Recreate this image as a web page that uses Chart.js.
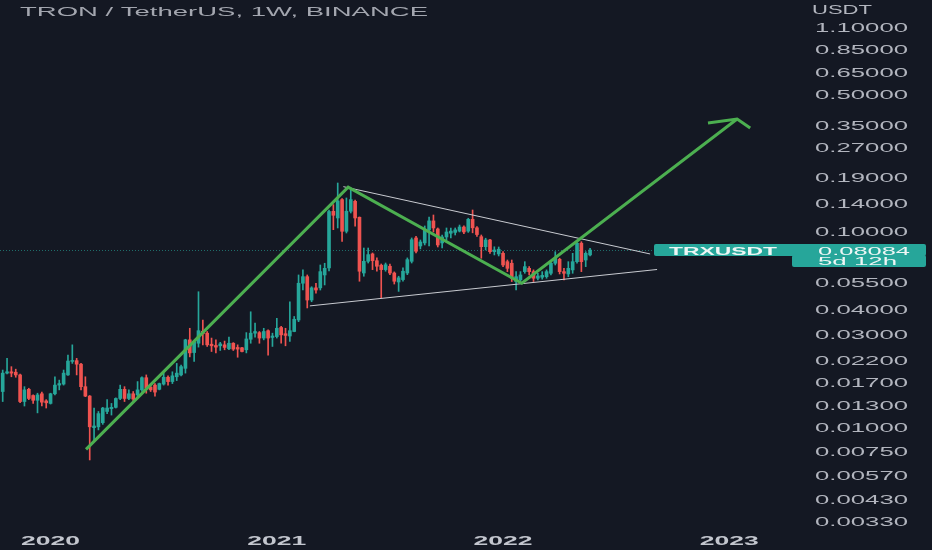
<!DOCTYPE html>
<html>
<head>
<meta charset="utf-8">
<script src="https://cdn.jsdelivr.net/npm/chart.js@4.4.1/dist/chart.umd.min.js"></script>
<style>
  html, body { margin: 0; padding: 0; background: #141823; }
  #wrap { width: 932px; height: 550px; }
</style>
</head>
<body>
<div id="wrap"><canvas id="trx" width="932" height="550"></canvas></div>
<script>
// TRX/USDT weekly candles, first bar = week of 2019-10-21
const startDate = "2019-10-21";

const opens = [
  0.0153, 0.0190, 0.0193, 0.0192, 0.0186, 0.0136, 0.0157, 0.0146, 0.0138, 0.0149,
  0.0137, 0.0133, 0.0149, 0.0165, 0.0167, 0.0186, 0.0218, 0.0220, 0.0211, 0.0162,
  0.0145, 0.0100, 0.0101, 0.0106, 0.0121, 0.0125, 0.0127, 0.0141, 0.0157, 0.0141,
  0.0149, 0.0147, 0.0156, 0.0180, 0.0161, 0.0165, 0.0157, 0.0167, 0.0181, 0.0172,
  0.0182, 0.0186, 0.0201, 0.0281, 0.0242, 0.0270, 0.0311, 0.0304, 0.0267, 0.0263,
  0.0262, 0.0265, 0.0253, 0.0270, 0.0257, 0.0256, 0.0250, 0.0283, 0.0304, 0.0306,
  0.0287, 0.0313, 0.0289, 0.0292, 0.0325, 0.0302, 0.0294, 0.0310, 0.0355, 0.0547,
  0.0591, 0.0449, 0.0518, 0.0518, 0.0603, 0.0655, 0.1275, 0.1179, 0.1463, 0.1008,
  0.1276, 0.1434, 0.1189, 0.0617, 0.0708, 0.0772, 0.0713, 0.0676, 0.0642, 0.0668,
  0.0617, 0.0555, 0.0571, 0.0617, 0.0708, 0.0932, 0.0848, 0.0879, 0.1024, 0.1139,
  0.1036, 0.0879, 0.0943, 0.0985, 0.0995, 0.1010, 0.1060, 0.1010, 0.1160, 0.1050,
  0.0946, 0.0841, 0.0910, 0.0793, 0.0772, 0.0778, 0.0705, 0.0692, 0.0558, 0.0569,
  0.0627, 0.0652, 0.0627, 0.0580, 0.0587, 0.0591, 0.0615, 0.0692, 0.0725, 0.0627,
  0.0610, 0.0640, 0.0705, 0.0876, 0.0719, 0.0763
];
const highs = [
  0.0197, 0.0226, 0.0205, 0.0199, 0.0188, 0.0162, 0.0159, 0.0147, 0.0150, 0.0152,
  0.0139, 0.0150, 0.0182, 0.0175, 0.0197, 0.0235, 0.0265, 0.0226, 0.0213, 0.0182,
  0.0146, 0.0126, 0.0121, 0.0127, 0.0139, 0.0133, 0.0142, 0.0165, 0.0162, 0.0156,
  0.0153, 0.0172, 0.0182, 0.0186, 0.0165, 0.0168, 0.0169, 0.0190, 0.0184, 0.0193,
  0.0213, 0.0209, 0.0283, 0.0322, 0.0276, 0.0495, 0.0355, 0.0310, 0.0287, 0.0281,
  0.0273, 0.0277, 0.0290, 0.0272, 0.0265, 0.0257, 0.0306, 0.0391, 0.0342, 0.0310,
  0.0322, 0.0316, 0.0304, 0.0362, 0.0329, 0.0322, 0.0440, 0.0370, 0.0603, 0.0640,
  0.0603, 0.0525, 0.0547, 0.0678, 0.0692, 0.1295, 0.1379, 0.1779, 0.1480, 0.1492,
  0.1680, 0.1457, 0.1193, 0.0828, 0.0828, 0.0781, 0.0737, 0.0686, 0.0694, 0.0686,
  0.0625, 0.0594, 0.0655, 0.0737, 0.0932, 0.0951, 0.0910, 0.1073, 0.1193, 0.1221,
  0.1048, 0.0965, 0.1048, 0.1048, 0.1048, 0.1085, 0.1075, 0.1175, 0.1295, 0.1065,
  0.0965, 0.0929, 0.0918, 0.0840, 0.0838, 0.0793, 0.0719, 0.0719, 0.0627, 0.0627,
  0.0705, 0.0665, 0.0640, 0.0615, 0.0627, 0.0640, 0.0705, 0.0793, 0.0734, 0.0652,
  0.0705, 0.0778, 0.0892, 0.0892, 0.0793, 0.0825
];
const lows = [
  0.0136, 0.0188, 0.0182, 0.0181, 0.0134, 0.0129, 0.0139, 0.0133, 0.0119, 0.0129,
  0.0126, 0.0132, 0.0147, 0.0156, 0.0165, 0.0185, 0.0213, 0.0186, 0.0156, 0.0144,
  0.00684, 0.00866, 0.00974, 0.0104, 0.0118, 0.0116, 0.0126, 0.0139, 0.0136, 0.0139,
  0.0136, 0.0144, 0.0153, 0.0150, 0.0153, 0.0145, 0.0156, 0.0165, 0.0165, 0.0168,
  0.0174, 0.0184, 0.0190, 0.0230, 0.0218, 0.0258, 0.0265, 0.0260, 0.0245, 0.0241,
  0.0248, 0.0250, 0.0250, 0.0248, 0.0229, 0.0244, 0.0241, 0.0270, 0.0290, 0.0270,
  0.0281, 0.0235, 0.0260, 0.0287, 0.0270, 0.0262, 0.0276, 0.0309, 0.0348, 0.0505,
  0.0409, 0.0440, 0.0487, 0.0505, 0.0536, 0.0632, 0.1027, 0.1048, 0.0896, 0.0988,
  0.1250, 0.1069, 0.0560, 0.0594, 0.0694, 0.0642, 0.0630, 0.0460, 0.0630, 0.0605,
  0.0542, 0.0497, 0.0560, 0.0605, 0.0694, 0.0781, 0.0819, 0.0858, 0.0848, 0.1000,
  0.0838, 0.0828, 0.0910, 0.0932, 0.0965, 0.1000, 0.0980, 0.0995, 0.0990, 0.0950,
  0.0734, 0.0809, 0.0778, 0.0763, 0.0754, 0.0665, 0.0627, 0.0558, 0.0505, 0.0558,
  0.0615, 0.0603, 0.0558, 0.0569, 0.0574, 0.0580, 0.0603, 0.0678, 0.0610, 0.0569,
  0.0591, 0.0615, 0.0692, 0.0627, 0.0665, 0.0754
];
const closes = [
  0.0190, 0.0193, 0.0190, 0.0186, 0.0136, 0.0156, 0.0141, 0.0138, 0.0147, 0.0135,
  0.0134, 0.0149, 0.0165, 0.0168, 0.0190, 0.0219, 0.0220, 0.0211, 0.0162, 0.0145,
  0.0101, 0.0102, 0.0118, 0.0126, 0.0126, 0.0127, 0.0141, 0.0157, 0.0141, 0.0149,
  0.0140, 0.0156, 0.0180, 0.0159, 0.0156, 0.0152, 0.0168, 0.0181, 0.0172, 0.0184,
  0.0190, 0.0205, 0.0281, 0.0241, 0.0274, 0.0313, 0.0302, 0.0265, 0.0262, 0.0258,
  0.0268, 0.0257, 0.0270, 0.0252, 0.0252, 0.0245, 0.0284, 0.0304, 0.0310, 0.0287,
  0.0310, 0.0287, 0.0294, 0.0322, 0.0298, 0.0296, 0.0313, 0.0358, 0.0547, 0.0591,
  0.0449, 0.0518, 0.0505, 0.0627, 0.0652, 0.1272, 0.1217, 0.1440, 0.1008, 0.1276,
  0.1463, 0.1179, 0.0630, 0.0708, 0.0766, 0.0713, 0.0668, 0.0642, 0.0680, 0.0617,
  0.0560, 0.0583, 0.0630, 0.0722, 0.0913, 0.0797, 0.0889, 0.1024, 0.1139, 0.1048,
  0.0858, 0.0943, 0.1000, 0.1010, 0.1025, 0.1060, 0.1000, 0.1160, 0.1050, 0.0970,
  0.0841, 0.0910, 0.0793, 0.0809, 0.0816, 0.0678, 0.0652, 0.0580, 0.0591, 0.0603,
  0.0665, 0.0627, 0.0580, 0.0596, 0.0600, 0.0627, 0.0692, 0.0734, 0.0627, 0.0615,
  0.0652, 0.0705, 0.0876, 0.0705, 0.0778, 0.08084
];

// right price axis ticks
const priceTicks = [1.1, 0.85, 0.65, 0.5, 0.35, 0.27, 0.19, 0.14, 0.1, 0.055,
  0.04, 0.03, 0.022, 0.017, 0.013, 0.01, 0.0075, 0.0057, 0.0043, 0.0033];
const yearLabels = ["2020", "2021", "2022", "2023"];

// drawings (week index, price)
const zigzagWeeks = [19.15, 79.4, 119.3, 168.8];
const zigzagPrices = [0.00775, 0.1693, 0.0547, 0.378];
const arrowWeeks = [162.1, 168.8, 171.8];
const arrowPrices = [0.3605, 0.378, 0.340];
const upperWeeks = [78.3, 148.8];
const upperPrices = [0.1704, 0.0772];
const lowerWeeks = [70.6, 150.4];
const lowerPrices = [0.0419, 0.0643];

const symbol = "TRXUSDT";
const timeLeft = "5d 12h";

const UP = "#26a69a";
const DOWN = "#ef5350";
const BG = "#141823";
const TXT = "#b2b5be";

const lastClose = closes[closes.length - 1];
const candleColors = closes.map((c, i) => (c >= opens[i] ? UP : DOWN));

const wickData = highs.map((h, i) => ({ x: i, y: [lows[i], h] }));
const bodyData = opens.map((o, i) => ({ x: i, y: [o, closes[i]] }));
const toPoints = (ws, ps) => ws.map((w, i) => ({ x: w, y: ps[i] }));

// week index of the first weekly bar of each year
const t0 = new Date(startDate + "T00:00:00Z").getTime();
const yearWeeks = yearLabels.map(
  (y) => Math.ceil((new Date(y + "-01-01T00:00:00Z").getTime() - t0) / (7 * 864e5))
);

function wideText(ctx, text, x, y, targetW, align) {
  const w = ctx.measureText(text).width;
  ctx.save();
  ctx.translate(x, y);
  ctx.scale(targetW / w, 1);
  ctx.textAlign = align || "left";
  ctx.fillText(text, 0, 0);
  ctx.restore();
}

const decor = {
  id: "decor",
  beforeDraw(chart) {
    const ctx = chart.ctx;
    ctx.save();
    ctx.fillStyle = BG;
    ctx.fillRect(0, 0, chart.width, chart.height);
    ctx.restore();
  },
  beforeDatasetsDraw(chart) {
    const ctx = chart.ctx;
    const yp = Math.round(chart.scales.y.getPixelForValue(lastClose)) + 0.5;
    ctx.save();
    ctx.strokeStyle = "rgba(38,166,154,0.6)";
    ctx.lineWidth = 1;
    ctx.setLineDash([1, 2]);
    ctx.beginPath();
    ctx.moveTo(0, yp);
    ctx.lineTo(654, yp);
    ctx.stroke();
    ctx.restore();
  },
  afterDraw(chart) {
    const ctx = chart.ctx;
    const ys = chart.scales.y;
    const xs = chart.scales.x;
    ctx.save();
    ctx.textBaseline = "alphabetic";

    // title + currency
    ctx.font = "12px 'Liberation Sans'";
    ctx.fillStyle = "#a3a6af";
    wideText(ctx, "TRON / TetherUS, 1W, BINANCE", 20, 16, 408, "left");
    ctx.fillStyle = TXT;
    wideText(ctx, "USDT", 812, 13.5, 60, "left");

    // price labels
    const sx = 93 / ctx.measureText("1.10000").width;
    priceTicks.forEach((v) => {
      const py = ys.getPixelForValue(v);
      ctx.save();
      ctx.translate(815, py + 4.3);
      ctx.scale(sx, 1);
      ctx.fillText(v.toFixed(5), 0, 0);
      ctx.restore();
    });

    // years
    ctx.font = "bold 12px 'Liberation Sans'";
    ctx.fillStyle = "#c3c6ce";
    yearLabels.forEach((lab, i) => {
      wideText(ctx, lab, xs.getPixelForValue(yearWeeks[i]), 544.5, 59, "center");
    });

    // last price badge
    const yp = Math.round(ys.getPixelForValue(lastClose));
    ctx.fillStyle = UP;
    ctx.beginPath();
    ctx.roundRect(654, yp - 6, 272, 12, 2);
    ctx.fill();
    ctx.beginPath();
    ctx.roundRect(792, yp + 5, 134, 12, 2);
    ctx.fill();
    ctx.fillStyle = "#eef6f5";
    ctx.font = "bold 11px 'Liberation Sans'";
    wideText(ctx, symbol, 723, yp + 4.5, 108, "center");
    ctx.font = "11px 'Liberation Sans'";
    wideText(ctx, lastClose.toFixed(5), 818, yp + 4.5, 92, "left");
    wideText(ctx, timeLeft, 818, yp + 14.5, 79, "left");
    ctx.restore();
  },
};

new Chart(document.getElementById("trx"), {
  type: "bar",
  data: {
    datasets: [
      {
        type: "line",
        data: toPoints(zigzagWeeks, zigzagPrices),
        borderColor: "#4caf50",
        borderWidth: 3,
        pointRadius: 0,
        order: 0,
      },
      {
        type: "line",
        data: toPoints(arrowWeeks, arrowPrices),
        borderColor: "#4caf50",
        borderWidth: 3,
        pointRadius: 0,
        order: 0,
      },
      {
        type: "line",
        data: toPoints(upperWeeks, upperPrices),
        borderColor: "#c8cad0",
        borderWidth: 1,
        pointRadius: 0,
        order: 0,
      },
      {
        type: "line",
        data: toPoints(lowerWeeks, lowerPrices),
        borderColor: "#c8cad0",
        borderWidth: 1,
        pointRadius: 0,
        order: 0,
      },
      {
        data: bodyData,
        backgroundColor: candleColors,
        barThickness: 3,
        minBarLength: 1,
        grouped: false,
        order: 1,
      },
      {
        data: wickData,
        backgroundColor: candleColors,
        barThickness: 1,
        grouped: false,
        order: 2,
      },
    ],
  },
  options: {
    responsive: false,
    animation: false,
    layout: { padding: { left: 0, top: 0, right: 137, bottom: 20 } },
    scales: {
      x: { type: "linear", min: -0.62, max: 182.1, offset: false, display: false },
      y: { type: "logarithmic", min: 0.003, max: 1.532, display: false },
    },
    plugins: { legend: { display: false }, tooltip: { enabled: false } },
  },
  plugins: [decor],
});
</script>
</body>
</html>
